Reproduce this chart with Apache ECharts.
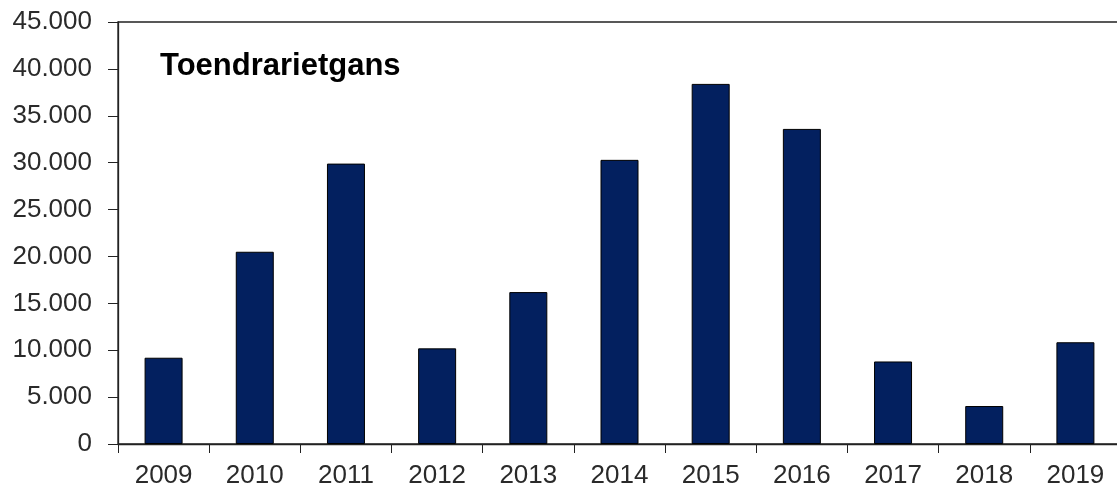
<!DOCTYPE html>
<html><head><meta charset="utf-8">
<script src="https://cdn.jsdelivr.net/npm/echarts@6/dist/echarts.min.js"></script>
<style>html,body{margin:0;padding:0;background:#fff}#c{width:1117px;height:490px}</style>
</head><body><div id="c"></div>
<script>
const categories = ['2009','2010','2011','2012','2013','2014','2015','2016','2017','2018','2019'];
const values = [9200, 20500, 29900, 10200, 16200, 30300, 38400, 33600, 8800, 4050, 10850];
const titleText = 'Toendrarietgans';
const yMin = 0, yMax = 45000, yStep = 5000;

const chart = echarts.init(document.getElementById('c'), null, {renderer:'canvas'});
const fmt = v => v === 0 ? '0' : String(v).replace(/\B(?=(\d{3})+(?!\d))/g, '.');
chart.setOption({
  animation: false,
  backgroundColor: '#fff',
  title: {
    text: titleText, left: 155, top: 46,
    textStyle: {fontFamily: 'Arial, Liberation Sans', fontWeight: 'bold', fontSize: 31, color: '#000'}
  },
  grid: {left: 118, width: 1003, top: 22, height: 422, outerBoundsMode: 'none', show: true, borderColor: '#222', borderWidth: 1.3, backgroundColor: 'transparent'},
  xAxis: {
    type: 'category', data: categories,
    axisLine: {lineStyle: {color: '#222', width: 1.3}},
    axisTick: {show: true, length: 9, lineStyle: {color: '#222'}},
    axisLabel: {color: '#2a2a2a', fontSize: 26, fontFamily: 'Arial, Liberation Sans', margin: 19, interval: 0}
  },
  yAxis: {
    type: 'value', min: yMin, max: yMax, interval: yStep,
    splitLine: {show: false},
    axisLine: {show: true, lineStyle: {color: '#222', width: 1.3}},
    axisTick: {show: true, length: 10, lineStyle: {color: '#222'}},
    axisLabel: {color: '#2a2a2a', fontSize: 26, fontFamily: 'Arial, Liberation Sans', margin: 26, formatter: fmt}
  },
  series: [{
    type: 'bar', data: values, barWidth: 38,
    itemStyle: {color: '#03205f', borderColor: '#000', borderWidth: 1}
  }]
});
</script></body></html>
